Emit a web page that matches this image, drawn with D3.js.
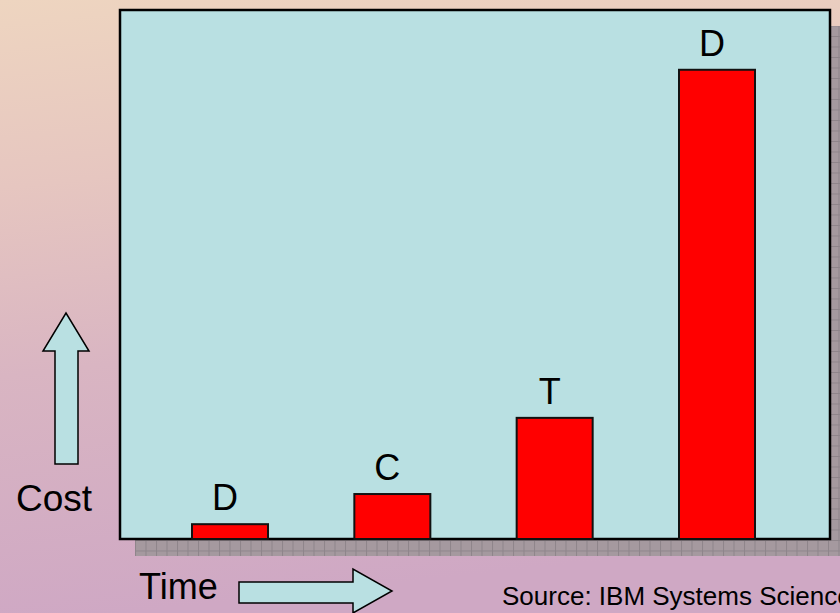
<!DOCTYPE html>
<html><head><meta charset="utf-8">
<script src="https://cdn.jsdelivr.net/npm/d3@7"></script>
<style>html,body{margin:0;padding:0;overflow:hidden;}svg{display:block;}</style>
</head><body>
<script>
const phases = ["D", "C", "T", "D"];
const phaseIds = ["Design", "Code", "Test", "Deploy"];
const costValues = [2.8, 8.5, 22.9, 88.7];
const yMax = 100;
const sourceText = "Source: IBM Systems Sciences Institute";

const W = 840, H = 613;
const plot = {left: 120, top: 10, right: 830, bottom: 539};

const svg = d3.select("body").append("svg").attr("width", W).attr("height", H);
const defs = svg.append("defs");
const bg = defs.append("linearGradient").attr("id", "bg").attr("x1", 0).attr("y1", 0).attr("x2", 0.15).attr("y2", 1);
bg.append("stop").attr("offset", "0%").attr("stop-color", "#eed5c0");
bg.append("stop").attr("offset", "30%").attr("stop-color", "#e6c6c0");
bg.append("stop").attr("offset", "60%").attr("stop-color", "#d9b5c2");
bg.append("stop").attr("offset", "100%").attr("stop-color", "#cfa8c4");

const pat = defs.append("pattern").attr("id", "grid").attr("patternUnits", "userSpaceOnUse")
  .attr("width", 10.5).attr("height", 10.5).attr("x", 135).attr("y", 540);
pat.append("rect").attr("width", 10.5).attr("height", 10.5).attr("fill", "#a5999f");
pat.append("path").attr("d", "M0,0.5H10.5M0.5,0V10.5").attr("stroke", "#8e858b").attr("stroke-width", 1);

svg.append("rect").attr("width", W).attr("height", H).attr("fill", "url(#bg)");

// 3D depth (floor + side wall)
svg.append("rect").attr("x", 135).attr("y", 540).attr("width", W - 135).attr("height", 16).attr("fill", "url(#grid)");
svg.append("rect").attr("x", plot.right + 1).attr("y", 26).attr("width", W - plot.right).attr("height", 530 - 16).attr("fill", "url(#grid)");

// plot area
svg.append("rect").attr("x", plot.left).attr("y", plot.top)
  .attr("width", plot.right - plot.left).attr("height", plot.bottom - plot.top)
  .attr("fill", "#b9e0e2").attr("stroke", "#000").attr("stroke-width", 2.5);

const x = d3.scalePoint().domain(phaseIds).range([230, 717]);
const y = d3.scaleLinear().domain([0, yMax]).range([plot.bottom, plot.top]);
const bw = 76;

const data = phaseIds.map((id, i) => ({id, label: phases[i], v: costValues[i]}));

svg.append("g").selectAll("rect").data(data).join("rect")
  .attr("x", d => x(d.id) - bw / 2).attr("y", d => y(d.v))
  .attr("width", bw).attr("height", d => y(0) - y(d.v))
  .attr("fill", "#ff0000").attr("stroke", "#111").attr("stroke-width", 2);

svg.append("g").selectAll("text").data(data).join("text")
  .attr("x", d => x(d.id) - 5).attr("y", d => y(d.v) - 14)
  .attr("text-anchor", "middle")
  .attr("font-family", "Liberation Sans, Arial, sans-serif").attr("font-size", 36)
  .attr("fill", "#000").text(d => d.label);

// Cost arrow (up)
svg.append("path")
  .attr("d", "M55,464 L55,351 L43,351 L66,313 L89,351 L78,351 L78,464 Z")
  .attr("fill", "#b9e0e2").attr("stroke", "#000").attr("stroke-width", 1.5);
svg.append("text").attr("x", 16).attr("y", 511)
  .attr("font-family", "Liberation Sans, Arial, sans-serif").attr("font-size", 37).text("Cost");

// Time arrow (right)
svg.append("path")
  .attr("d", "M239,582 L353,582 L353,569 L392,591 L353,613 L353,603 L239,603 Z")
  .attr("fill", "#b9e0e2").attr("stroke", "#000").attr("stroke-width", 1.5);
svg.append("text").attr("x", 139).attr("y", 599)
  .attr("font-family", "Liberation Sans, Arial, sans-serif").attr("font-size", 36).text("Time");

svg.append("text").attr("x", 502).attr("y", 605)
  .attr("font-family", "Liberation Sans, Arial, sans-serif").attr("font-size", 26).text(sourceText);
</script>
</body></html>
